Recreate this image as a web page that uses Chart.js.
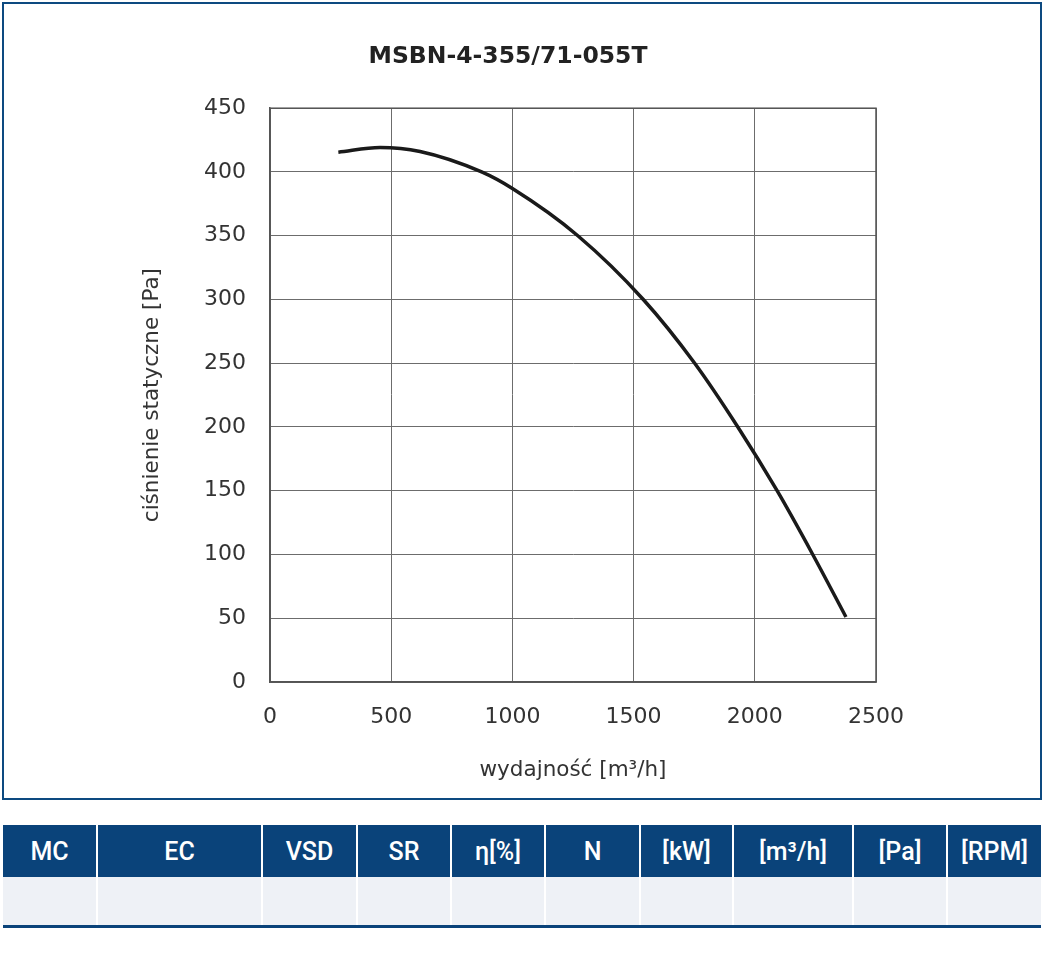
<!DOCTYPE html>
<html>
<head>
<meta charset="utf-8">
<script src="https://cdn.jsdelivr.net/npm/chart.js@4"></script>
<style>
  html, body { margin: 0; padding: 0; background: #fff; }
  body { width: 1043px; height: 957px; position: relative; overflow: hidden; font-family: "Roboto", "Liberation Sans", sans-serif; }
  #wrap { position: absolute; left: 0; top: 0; width: 1043px; height: 801px; }
  #frame { position: absolute; left: 2px; top: 2px; width: 1036px; height: 794px; border: 2px solid #0d4a80; pointer-events: none; }
  table { position: absolute; left: 3px; top: 825px; width: 1038px; border-collapse: collapse; table-layout: fixed; }
  th { background: #0a437a; color: #fff; height: 52px; font-size: 25px; font-weight: 500; padding: 0; border-left: 2px solid #fff; text-align: center; }
  td { background: #eef1f6; height: 48px; padding: 0; border-left: 2px solid #fff; border-bottom: 3px solid #0a437a; }
  th:first-child, td:first-child { border-left: none; }
</style>
</head>
<body>
<div id="wrap"><canvas id="c" width="1043" height="801"></canvas></div>
<div id="frame"></div>
<table>
  <colgroup>
    <col style="width:94px"><col style="width:165px"><col style="width:95px"><col style="width:94px"><col style="width:94px">
    <col style="width:95px"><col style="width:93px"><col style="width:120px"><col style="width:94px"><col style="width:94px">
  </colgroup>
  <tr><th>MC</th><th>EC</th><th>VSD</th><th>SR</th><th>η[%]</th><th>N</th><th>[kW]</th><th>[m³/h]</th><th>[Pa]</th><th>[RPM]</th></tr>
  <tr><td></td><td></td><td></td><td></td><td></td><td></td><td></td><td></td><td></td><td></td></tr>
</table>
<script>
const chartTitle = "MSBN-4-355/71-055T";
const xAxisTitle = "wydajność [m³/h]";
const yAxisTitle = "ciśnienie statyczne [Pa]";
const flowValues = [282, 454, 619, 873, 1000, 1270, 1540, 1752, 1930, 2092, 2239, 2376];
const pressureValues = [415.5, 419.2, 416, 400, 387, 350, 300, 250, 200, 150, 100, 51];
const xTicks = [0, 500, 1000, 1500, 2000, 2500];
const yTicks = [0, 50, 100, 150, 200, 250, 300, 350, 400, 450];

const points = flowValues.map((x, i) => ({ x: x, y: pressureValues[i] }));
const tickFont = { family: "'DejaVu Sans', sans-serif", size: 22, weight: 'normal' };
const axisTitleFont = { family: "'DejaVu Sans', sans-serif", size: 21.5, weight: 'normal' };

new Chart(document.getElementById('c'), {
  type: 'line',
  data: { datasets: [{ data: points, borderColor: '#1a1a1a', borderWidth: 3.5, pointRadius: 0, cubicInterpolationMode: 'monotone', fill: false }] },
  options: {
    responsive: false,
    animation: false,
    devicePixelRatio: 1,
    layout: { padding: { left: 140, right: 167, top: 43, bottom: 0 } },
    plugins: {
      legend: { display: false },
      tooltip: { enabled: false },
      title: { display: true, text: chartTitle, color: '#222', font: { family: "'DejaVu Sans', sans-serif", size: 23.5, weight: 'bold' }, padding: { top: 0, bottom: 37 } }
    },
    scales: {
      x: {
        type: 'linear', min: 0, max: 2500,
        afterBuildTicks: s => { s.ticks = xTicks.map(v => ({ value: v })); },
        afterFit: s => { s.height = 119; },
        ticks: { color: '#333', font: tickFont, padding: 22, maxRotation: 0, callback: v => String(v) },
        grid: { color: '#6c6c6c', lineWidth: 1, drawTicks: false },
        border: { color: '#555', width: 1.5 },
        title: { display: true, text: xAxisTitle, color: '#333', font: axisTitleFont, padding: { top: 0, bottom: 18 } }
      },
      y: {
        type: 'linear', min: 0, max: 450,
        afterBuildTicks: s => { s.ticks = yTicks.map(v => ({ value: v })); },
        afterFit: s => { s.width = 130; },
        ticks: { color: '#333', font: tickFont, padding: 24, callback: v => String(v) },
        grid: { color: '#6c6c6c', lineWidth: 1, drawTicks: false },
        border: { color: '#555', width: 1.5 },
        title: { display: true, text: yAxisTitle, color: '#333', font: axisTitleFont, padding: { top: 0, bottom: 0 } }
      }
    }
  },
  plugins: [{
    id: 'frameRight',
    afterDraw(chart) {
      const { ctx, chartArea: a } = chart;
      ctx.save();
      ctx.strokeStyle = '#555';
      ctx.lineWidth = 1.5;
      ctx.strokeRect(a.left, a.top, a.right - a.left, a.bottom - a.top);
      ctx.restore();
    }
  }]
});
</script>
</body>
</html>
